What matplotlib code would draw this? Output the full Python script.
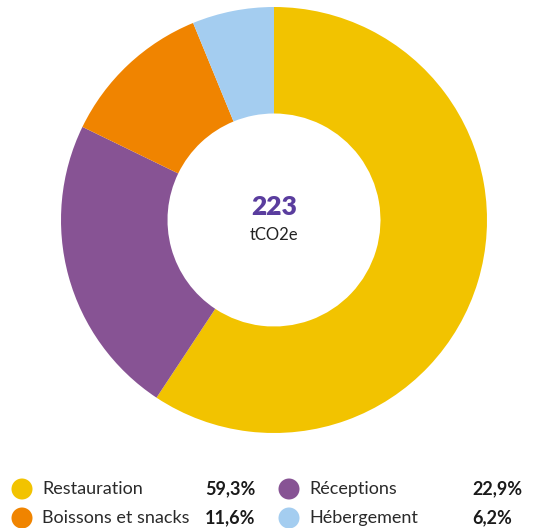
import matplotlib
matplotlib.use("Agg")
import matplotlib.pyplot as plt
from matplotlib.patches import Circle

categories = ["Restauration", "Réceptions", "Boissons et snacks", "Hébergement"]
values = [59.3, 22.9, 11.6, 6.2]
colors = ["#F2C300", "#875394", "#F08400", "#A4CDF0"]
pct_labels = ["59,3%", "22,9%", "11,6%", "6,2%"]
total_value = "223"
total_unit = "tCO2e"

W, H = 537, 528
fig = plt.figure(figsize=(W / 100, H / 100), dpi=100)
fig.patch.set_facecolor("white")
plt.rcParams["font.family"] = ["Lato", "DejaVu Sans"]

def fx(x):
    return x / W

def fy(y):
    return 1 - y / H

cx, cy, r = 274, 220, 213
ax = fig.add_axes([fx(cx - r), fy(cy + r), 2 * r / W, 2 * r / H])
ax.pie(values, colors=colors, startangle=90, counterclock=False,
       radius=1.0, wedgeprops=dict(width=0.5, linewidth=0))
ax.set_xlim(-1, 1)
ax.set_ylim(-1, 1)
ax.set_aspect("equal")
ax.axis("off")

ax.text(0, 0.06, total_value, ha="center", va="center", fontsize=19,
        fontweight="heavy", color="#5A3D9E")
ax.text(0, -0.07, total_unit, ha="center", va="center", fontsize=12,
        color="#222222")

# legend
lax = fig.add_axes([0, 0, 1, 1])
lax.set_xlim(0, W)
lax.set_ylim(H, 0)
lax.axis("off")
lax.patch.set_alpha(0)

positions = [(22, 489), (289, 489), (22, 518), (289, 518)]
for i, (x, y) in enumerate(positions):
    lax.add_patch(Circle((x, y), 10.5, color=colors[i], linewidth=0))
    lax.text(x + 20, y, categories[i], ha="left", va="center", fontsize=13,
             color="#2a2a2a")
    lax.text(x + 183, y, pct_labels[i], ha="left", va="center", fontsize=13,
             fontweight="bold", color="#1a1a1a")

fig.savefig("out.png", dpi=100, facecolor="white")
